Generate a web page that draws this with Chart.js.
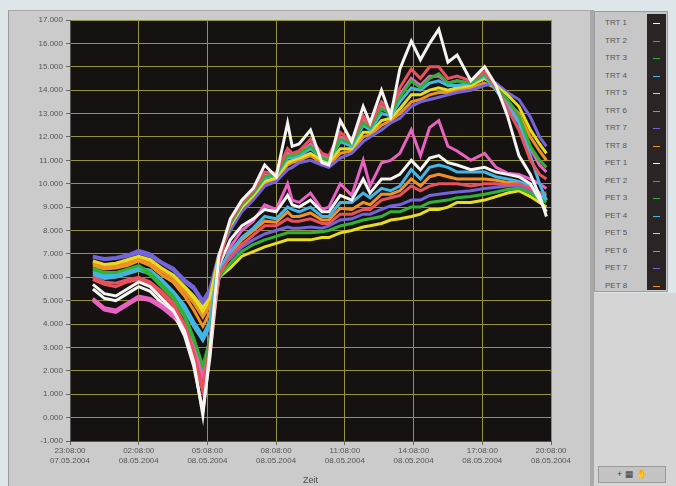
<!DOCTYPE html>
<html>
<head>
<meta charset="utf-8">
<script src="https://cdn.jsdelivr.net/npm/chart.js@4"></script>
<style>
  body { margin: 0; width: 676px; height: 486px; background: #dfe6e9; position: relative; overflow: hidden;
         font-family: "Liberation Sans", "DejaVu Sans", sans-serif; }
  #panel { position: absolute; left: 8px; top: 10px; width: 582px; height: 476px; background: #cbcbcb;
           border-left: 1px solid #9a9a9a; border-top: 1px solid #a8a8a8; }
  #sep { position: absolute; left: 590px; top: 10px; width: 4px; height: 476px; background: #a9a9a9; }
  #chart { position: absolute; left: 0; top: 0; }
  #legend { position: absolute; left: 594px; top: 11px; width: 74px; height: 281px; background: #c7c7c7;
            border: 1px solid #9c9c9c; box-sizing: border-box; }
  #legend .row { position: absolute; left: 10px; font-size: 8px; color: #555; height: 10px; line-height: 10px; }
  #swatch { position: absolute; left: 52px; top: 2px; width: 19px; height: 276px; background: #2a2424; }
  #swatch span { position: absolute; left: 6px; width: 7px; height: 1px; }
  #lower { position: absolute; left: 594px; top: 293px; width: 82px; height: 193px; background: #d5d5d5; }
  #tools { position: absolute; left: 598px; top: 466px; width: 66px; height: 15px; background: #c4c4c4;
           border: 1px solid #9a9a9a; font-size: 9px; color: #444; line-height: 15px; text-align: center; }
</style>
</head>
<body>
<div id="panel"></div>
<div id="sep"></div>
<div id="lower"></div>
<div id="tools">+ &#9638; &#9995;</div>
<div id="legend"><div id="swatch"></div></div>
<canvas id="chart" width="590" height="486"></canvas>
<script>
// hours since 23:08:00 07.05.2004
var hours = [1.0, 1.5, 2.0, 2.5, 3.0, 3.5, 4.0, 4.5, 5.0, 5.4, 5.8, 6.1, 6.5,
  7.0, 7.5, 8.0, 8.5, 9.0, 9.5, 9.7, 10.0, 10.5, 11.0, 11.3, 11.8, 12.3, 12.8, 13.1, 13.6, 14.0, 14.4,
  14.9, 15.3, 15.7, 16.1, 16.5, 16.9, 17.5, 18.1, 18.6, 19.1, 19.6, 20.1, 20.5, 20.8];

var trt1 = [5.7, 5.3, 5.2, 5.5, 5.8, 5.6, 5.1, 4.6, 3.7, 2.4, 0.1, 2.8, 6.9,
  8.5, 9.3, 9.8, 10.8, 10.3, 12.6, 11.6, 11.7, 12.3, 10.9, 10.8, 12.7, 11.8, 13.3, 12.6, 14.0, 12.9, 14.9,
  16.1, 15.3, 16.0, 16.6, 15.2, 15.5, 14.4, 15.0, 14.2, 12.9, 11.2, 10.4, 9.5, 8.6];
var trt2 = [6.0, 5.8, 5.75, 5.9, 6.0, 5.8, 5.4, 4.9, 4.0, 2.8, 1.3, 3.0, 6.6,
  8.4, 9.2, 9.7, 10.5, 10.45, 11.5, 11.3, 11.4, 11.9, 11.3, 11.2, 12.2, 11.8, 12.9, 12.5, 13.5, 13.1, 14.1,
  14.9, 14.5, 15.0, 15.0, 14.5, 14.6, 14.4, 14.8, 14.1, 13.2, 12.3, 11.0, 10.4, 10.2];
var trt3 = [6.4, 6.2, 6.2, 6.35, 6.5, 6.2, 5.7, 5.2, 4.4, 3.4, 2.2, 3.3, 6.7,
  8.3, 9.1, 9.6, 10.3, 10.4, 11.2, 11.2, 11.3, 11.6, 11.1, 11.0, 11.9, 11.7, 12.6, 12.4, 13.2, 13.0, 13.7,
  14.4, 14.1, 14.5, 14.7, 14.3, 14.4, 14.3, 14.7, 14.1, 13.6, 12.9, 11.6, 11.0, 10.7];
var trt4 = [6.2, 6.05, 6.1, 6.25, 6.4, 6.3, 5.9, 5.4, 4.8, 4.1, 3.5, 4.1, 6.8,
  8.3, 9.1, 9.6, 10.25, 10.35, 11.1, 11.1, 11.2, 11.5, 11.1, 11.0, 11.8, 11.6, 12.5, 12.3, 13.0, 12.9, 13.5,
  14.1, 14.0, 14.3, 14.4, 14.2, 14.2, 14.3, 14.6, 14.0, 13.3, 12.6, 11.2, 10.0, 9.3];
var trt5 = [6.7, 6.55, 6.6, 6.75, 6.9, 6.75, 6.4, 6.1, 5.6, 5.2, 4.7, 5.1, 6.95,
  8.2, 9.0, 9.5, 10.1, 10.25, 10.9, 11.0, 11.1, 11.3, 11.0, 10.9, 11.5, 11.5, 12.2, 12.2, 12.7, 12.8, 13.2,
  13.8, 13.8, 14.0, 14.1, 14.0, 14.1, 14.2, 14.5, 14.2, 13.8, 13.3, 12.3, 11.7, 11.3];
var trt6 = [5.1, 4.7, 4.6, 4.9, 5.2, 5.1, 4.8, 4.4, 3.9, 3.0, 1.8, 3.4, 6.7,
  8.35, 9.15, 9.65, 10.35, 10.4, 11.3, 11.2, 11.3, 11.7, 11.2, 11.1, 12.0, 11.7, 12.7, 12.4, 13.3, 13.0, 13.8,
  14.5, 14.2, 14.6, 14.6, 14.3, 14.4, 14.3, 14.7, 14.0, 13.4, 12.7, 11.5, 10.8, 10.5];
var trt7 = [6.9, 6.8, 6.85, 6.95, 7.15, 7.0, 6.65, 6.4, 5.9, 5.6, 5.0, 5.5, 7.0,
  8.0, 8.8, 9.3, 9.9, 10.1, 10.6, 10.7, 10.9, 11.0, 10.8, 10.7, 11.1, 11.3, 11.8, 12.0, 12.3, 12.6, 12.8,
  13.3, 13.5, 13.6, 13.7, 13.8, 13.9, 14.0, 14.2, 14.3, 13.9, 13.6, 12.85, 12.0, 11.6];
var trt8 = [6.6, 6.45, 6.5, 6.6, 6.8, 6.6, 6.25, 5.95, 5.4, 4.9, 4.3, 4.8, 6.9,
  8.1, 8.9, 9.45, 10.05, 10.2, 10.8, 10.9, 11.0, 11.2, 10.9, 10.8, 11.3, 11.4, 12.0, 12.1, 12.5, 12.7, 13.0,
  13.5, 13.6, 13.8, 13.9, 13.9, 14.0, 14.1, 14.3, 14.1, 13.5, 13.0, 12.0, 11.4, 11.0];

var pet1 = [5.5, 5.1, 5.0, 5.3, 5.6, 5.4, 4.9, 4.5, 3.5, 2.2, 0.3, 2.5, 6.5,
  7.6, 8.2, 8.5, 8.9, 8.8, 9.5, 9.1, 9.0, 9.3, 8.8, 8.8, 9.5, 9.3, 10.2, 9.6, 10.2, 10.2, 10.4,
  11.0, 10.6, 11.1, 11.2, 10.9, 10.8, 10.6, 10.7, 10.5, 10.4, 10.3, 10.0, 9.3, 8.8];
var pet2 = [5.9, 5.7, 5.6, 5.8, 5.9, 5.7, 5.3, 4.8, 3.9, 2.6, 1.1, 2.6, 6.1,
  6.9, 7.4, 7.8, 8.2, 8.2, 8.5, 8.4, 8.4, 8.5, 8.3, 8.3, 8.7, 8.7, 8.9, 8.9, 9.3, 9.4, 9.5,
  9.9, 9.7, 9.9, 10.0, 10.0, 10.0, 9.9, 10.0, 10.0, 9.95, 10.0, 9.8, 9.6, 9.6];
var pet3 = [6.3, 6.1, 6.1, 6.25, 6.4, 6.1, 5.6, 5.1, 4.3, 3.2, 2.0, 3.1, 6.0,
  6.6, 7.1, 7.4, 7.6, 7.75, 7.9, 7.9, 7.9, 7.9, 7.95, 8.0, 8.2, 8.3, 8.45, 8.5, 8.6, 8.8, 8.8,
  9.0, 9.0, 9.2, 9.25, 9.3, 9.4, 9.45, 9.55, 9.65, 9.75, 9.8, 9.6, 9.35, 9.2];
var pet4 = [6.1, 5.95, 6.0, 6.15, 6.3, 6.15, 5.8, 5.3, 4.6, 3.9, 3.3, 3.9, 6.3,
  7.1, 7.7, 8.1, 8.6, 8.5, 9.0, 8.9, 8.8, 9.0, 8.6, 8.6, 9.2, 9.2, 9.6, 9.4, 9.8, 9.7, 9.9,
  10.6, 10.2, 10.7, 10.8, 10.7, 10.5, 10.5, 10.5, 10.3, 10.2, 10.1, 9.9, 9.6, 9.3];
var pet5 = [6.65, 6.5, 6.5, 6.65, 6.8, 6.65, 6.3, 6.0, 5.5, 5.1, 4.5, 4.9, 6.0,
  6.4, 6.9, 7.1, 7.3, 7.45, 7.6, 7.6, 7.6, 7.6, 7.7, 7.7, 7.9, 8.0, 8.15, 8.2, 8.3, 8.45, 8.5,
  8.6, 8.7, 8.9, 8.9, 9.0, 9.2, 9.2, 9.3, 9.45, 9.6, 9.7, 9.45, 9.2, 9.0];
var pet6 = [5.0, 4.6, 4.5, 4.8, 5.1, 5.0, 4.7, 4.3, 3.8, 2.9, 1.7, 3.2, 5.9,
  7.3, 8.0, 8.4, 9.1, 8.9, 10.0, 9.3, 9.2, 9.6, 8.9, 9.0, 10.0, 9.5, 11.0, 9.9, 10.9, 11.0, 11.3,
  12.3, 11.2, 12.4, 12.7, 11.6, 11.4, 11.0, 11.3, 10.7, 10.45, 10.4, 10.2, 10.0, 9.8];
var pet7 = [6.85, 6.75, 6.8, 6.9, 7.05, 6.9, 6.6, 6.3, 5.8, 5.5, 4.9, 5.3, 6.4,
  6.8, 7.3, 7.6, 7.85, 8.0, 8.15, 8.1, 8.1, 8.15, 8.1, 8.2, 8.45, 8.5, 8.7, 8.7, 8.9, 9.05, 9.1,
  9.3, 9.3, 9.5, 9.55, 9.6, 9.65, 9.7, 9.8, 9.85, 9.9, 9.9, 9.7, 9.4, 9.3];
var pet8 = [6.5, 6.35, 6.4, 6.5, 6.7, 6.5, 6.1, 5.8, 5.2, 4.6, 3.9, 4.5, 6.2,
  7.0, 7.6, 8.0, 8.4, 8.35, 8.8, 8.6, 8.6, 8.75, 8.45, 8.45, 8.95, 8.9, 9.2, 9.1, 9.55, 9.55, 9.7,
  10.2, 9.9, 10.3, 10.4, 10.3, 10.2, 10.2, 10.2, 10.15, 10.05, 10.05, 9.85, 9.6, 9.5];

var names = ['TRT 1', 'TRT 2', 'TRT 3', 'TRT 4', 'TRT 5', 'TRT 6', 'TRT 7', 'TRT 8',
             'PET 1', 'PET 2', 'PET 3', 'PET 4', 'PET 5', 'PET 6', 'PET 7', 'PET 8'];
var values = [trt1, trt2, trt3, trt4, trt5, trt6, trt7, trt8,
              pet1, pet2, pet3, pet4, pet5, pet6, pet7, pet8];

var xTimes = ['23:08:00', '02:08:00', '05:08:00', '08:08:00', '11:08:00', '14:08:00', '17:08:00', '20:08:00'];
var xDates = ['07.05.2004', '08.05.2004', '08.05.2004', '08.05.2004', '08.05.2004', '08.05.2004', '08.05.2004', '08.05.2004'];

var palette = ['#f4f4f2', '#e8525c', '#31b236', '#43b6e6', '#e6dc22', '#e862c2', '#7464dc', '#ef9226'];

var datasets = values.map(function (v, i) {
  return {
    label: names[i],
    data: v.map(function (y, k) { return { x: hours[k], y: y }; }),
    borderColor: palette[i % 8],
    borderWidth: 3,
    pointRadius: 0,
    tension: 0
  };
});

// legend on the right side
var legend = document.getElementById('legend');
var swatch = document.getElementById('swatch');
names.forEach(function (n, i) {
  var r = document.createElement('div');
  r.className = 'row';
  r.style.top = (6 + i * 17.5) + 'px';
  r.textContent = n;
  legend.appendChild(r);
  var s = document.createElement('span');
  s.style.top = (9 + i * 17.5) + 'px';
  s.style.background = palette[i % 8];
  swatch.appendChild(s);
});

var plotBg = {
  id: 'plotBg',
  beforeDraw: function (chart) {
    var a = chart.chartArea, c = chart.ctx;
    c.save();
    c.fillStyle = '#151211';
    c.fillRect(a.left, a.top, a.right - a.left, a.bottom - a.top);
    c.restore();
  }
};

var ctx = document.getElementById('chart').getContext('2d');
var chart = new Chart(ctx, {
  type: 'line',
  data: { datasets: datasets },
  plugins: [plotBg],
  options: {
    responsive: false,
    animation: false,
    layout: { padding: { left: 0, right: 39, top: 20, bottom: 0 } },
    plugins: { legend: { display: false }, tooltip: { enabled: false } },
    scales: {
      x: {
        type: 'linear', min: 0, max: 21,
        afterFit: function (s) { s.height = 45; },
        ticks: {
          stepSize: 3, autoSkip: false, maxRotation: 0, color: '#555', padding: 1,
          font: { family: 'Liberation Sans', size: 8 },
          callback: function (v) { var i = Math.round(v / 3); return [xTimes[i], xDates[i]]; }
        },
        grid: { color: '#96943a', tickLength: 4, tickColor: '#666' },
        border: { color: '#555' },
        title: { display: true, text: 'Zeit', color: '#4a4a4a', padding: 0,
                 font: { family: 'Liberation Sans', size: 9 } }
      },
      y: {
        min: -1, max: 17,
        afterFit: function (s) { s.width = 70; },
        ticks: {
          stepSize: 1, color: '#555', padding: 3,
          font: { family: 'Liberation Sans', size: 8 },
          callback: function (v) { return v.toFixed(3); }
        },
        grid: { color: '#96943a', tickLength: 4, tickColor: '#666' },
        border: { color: '#555' }
      }
    }
  }
});
</script>
</body>
</html>
